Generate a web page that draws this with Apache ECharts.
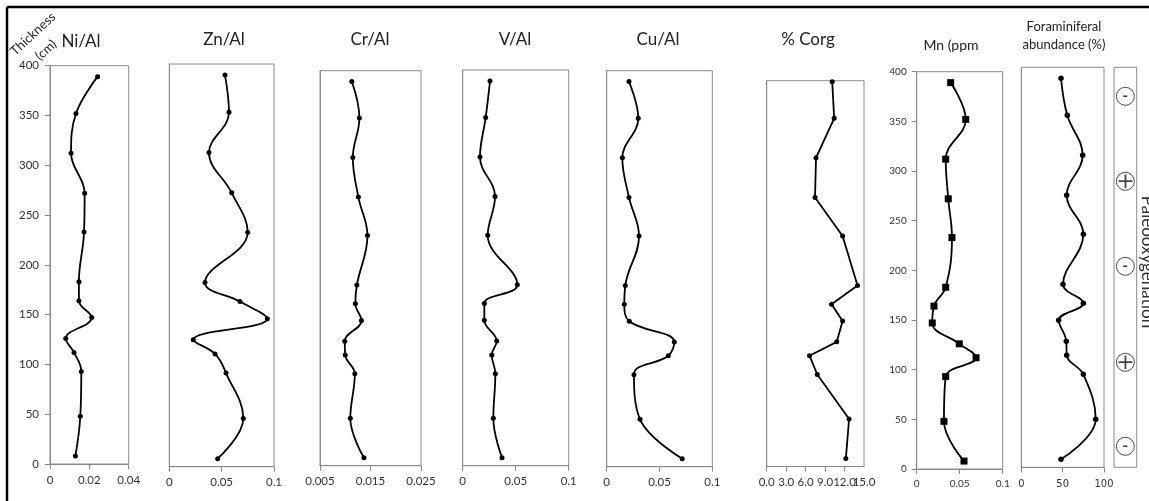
<!DOCTYPE html>
<html><head><meta charset="utf-8">
<script src="https://cdn.jsdelivr.net/npm/echarts@6/dist/echarts.min.js"></script>
<style>html,body{margin:0;padding:0;background:#fff}#c{width:1149px;height:501px}</style>
</head><body><div id="c"></div>
<script>
// ---- data ----
const depth = [389, 352, 312, 272, 233, 183, 164, 147, 126, 112, 93, 48, 8];
const niAl  = [0.0242, 0.0132, 0.0107, 0.0176, 0.0173, 0.0147, 0.0147, 0.0212, 0.0080, 0.0122, 0.0159, 0.0154, 0.0129];
const znAl  = [0.0532, 0.0570, 0.0379, 0.0596, 0.0749, 0.0341, 0.0675, 0.0936, 0.0229, 0.0437, 0.0542, 0.0707, 0.0462];
const crAl  = [0.0113, 0.0128, 0.0115, 0.0126, 0.0144, 0.0123, 0.0120, 0.0132, 0.0099, 0.0100, 0.0119, 0.0110, 0.0137];
const vAl   = [0.0258, 0.0217, 0.0163, 0.0305, 0.0236, 0.0515, 0.0204, 0.0204, 0.0321, 0.0274, 0.0308, 0.0289, 0.0371];
const cuAl  = [0.0211, 0.0299, 0.0148, 0.0211, 0.0306, 0.0176, 0.0167, 0.0214, 0.0640, 0.0583, 0.0258, 0.0315, 0.0715];
const corg  = [10.1, 10.4, 7.6, 7.45, 11.7, 14.0, 10.0, 11.7, 10.8, 6.6, 7.8, 12.7, 12.2];
const mnPpm = [0.0395, 0.0570, 0.0337, 0.0367, 0.0410, 0.0337, 0.0201, 0.0181, 0.0495, 0.0690, 0.0337, 0.0317, 0.0550];
const foram = [48, 55.6, 74.2, 54.9, 75, 50.4, 75, 45.2, 54.4, 54.9, 75, 90, 48];
const redoxDepth = [371, 286, 201, 105, 21];
const redoxSign  = ['-', '+', '-', '+', '-'];
const titles = ['Ni/Al', 'Zn/Al', 'Cr/Al', 'V/Al', 'Cu/Al', '% Corg', 'Mn (ppm', 'Foraminiferal\nabundance (%)'];
const xMin = [0, 0, 0.005, 0, 0, 0, 0, 0];
const xMax = [0.04, 0.1, 0.025, 0.1, 0.1, 15, 0.1, 100];
const xStep = [0.02, 0.05, 0.01, 0.05, 0.05, 3, 0.05, 50];
const yMax = [400, 400, 400, 400, 400, 390, 400, 400];
const seriesVals = [niAl, znAl, crAl, vAl, cuAl, corg, mnPpm, foram];

// ---- layout ----
const boxes = [
  {l: 50,    t: 65.7, w: 78.7,  b: 464},
  {l: 169.3, t: 64,   w: 104.7, b: 466.7},
  {l: 320,   t: 70.7, w: 101,   b: 465.7},
  {l: 462.7, t: 70,   w: 106,   b: 465.7},
  {l: 606.7, t: 70.7, w: 105.6, b: 466.7},
  {l: 766.7, t: 80.7, w: 97.3,  b: 466.5},
  {l: 916.7, t: 71.7, w: 86,    b: 469},
  {l: 1021.3,t: 67.3, w: 82.7,  b: 467.3}
];
const titlePos = [[81, 42, 17], [224, 40, 17], [370, 40, 17], [515, 40, 17], [658, 40, 17], [808, 40, 17], [951, 45, 14], [1064, 36, 13]];
const AX = '#8a8a8a';
const FONT = 'Lato, "Open Sans", sans-serif';

const grid = [], xAxis = [], yAxis = [], series = [];
boxes.forEach((b, i) => {
  grid.push({left: b.l, top: b.t, width: b.w, height: b.b - b.t, show: true, borderColor: AX, borderWidth: 1, backgroundColor: 'transparent'});
  const isForam = i === 7, isMn = i === 6, isCorg = i === 5;
  xAxis.push({
    type: 'value', gridIndex: i, min: xMin[i], max: xMax[i], interval: xStep[i],
    axisLine: {show: true, lineStyle: {color: AX}},
    axisTick: {show: true, length: 5, lineStyle: {color: AX}},
    splitLine: {show: false},
    axisLabel: {
      show: true, color: '#333', margin: isForam ? 11 : 10,
      fontSize: isMn ? 10 : (isForam ? 11 : 11.5),
      fontFamily: isForam ? '"Liberation Sans Narrow", "DejaVu Sans Condensed", sans-serif' : FONT,
      formatter: isCorg ? (v => v.toFixed(1)) : null,
      hideOverlap: false, showMinLabel: true, showMaxLabel: !isCorg
    }
  });
  const showY = i === 0 || i === 6;
  yAxis.push({
    type: 'value', gridIndex: i, min: 0, max: yMax[i], interval: 50,
    axisLine: {show: true, lineStyle: {color: AX}},
    axisTick: {show: showY, length: 5, lineStyle: {color: AX}},
    splitLine: {show: false},
    axisLabel: {show: showY, color: '#333', fontSize: isMn ? 10 : 11.5, fontFamily: FONT, margin: isMn ? 10 : 11}
  });
  const vals = seriesVals[i];
  series.push({
    type: 'line', xAxisIndex: i, yAxisIndex: i,
    data: depth.map((d, k) => [vals[k], d]),
    smooth: isCorg ? false : 0.4,
    symbol: isMn ? 'rect' : 'circle',
    symbolSize: isMn ? 7 : (isForam ? 5.5 : 5),
    showSymbol: true,
    lineStyle: {color: '#000', width: 1.8},
    itemStyle: {color: '#000'},
    silent: true
  });
});
// redox box
grid.push({left: 1114, top: 67.3, width: 22.7, height: 400, show: true, borderColor: AX, borderWidth: 1});
xAxis.push({type: 'value', gridIndex: 8, min: 0, max: 1, show: false});
yAxis.push({type: 'value', gridIndex: 8, min: 0, max: 400, show: false});
series.push({
  type: 'scatter', xAxisIndex: 8, yAxisIndex: 8,
  data: redoxDepth.map((d, k) => ({
    value: [0.5, d],
    label: redoxSign[k] === '+' ? {fontSize: 22, fontFamily: '"DejaVu Sans", sans-serif', offset: [0, 1]} : {fontSize: 16, fontWeight: 'bold', fontFamily: FONT}
  })),
  symbol: 'circle', symbolSize: 18,
  itemStyle: {color: '#fff', borderColor: '#222', borderWidth: 1},
  label: {show: true, position: 'inside', color: '#111', formatter: p => redoxSign[p.dataIndex]},
  silent: true
});
// second %Corg axis carrying only its last tick label (the overlapping "15.0")
const cb = boxes[5];
xAxis.push({
  type: 'value', gridIndex: 5, position: 'top', offset: -(cb.b - cb.t),
  min: xMin[5], max: xMax[5], interval: xMax[5] - xMin[5],
  axisLine: {show: false}, axisTick: {show: false}, splitLine: {show: false},
  axisLabel: {show: true, inside: true, color: '#333', margin: 10, fontSize: 11.5, fontFamily: FONT,
    showMinLabel: true, showMaxLabel: true,
    formatter: v => (v === xMax[5] ? v.toFixed(1) : '')}
});

const graphic = [
  {type: 'line', shape: {x1: 7, y1: 7, x2: 1149, y2: 7}, style: {stroke: '#000', lineWidth: 2.5}},
  {type: 'line', shape: {x1: 7, y1: 7, x2: 7, y2: 501}, style: {stroke: '#000', lineWidth: 2.5}},
  {type: 'text', x: 33, y: 34, rotation: 0.75, style: {text: 'Thickness', font: '13px ' + FONT, fill: '#222', textAlign: 'center', textVerticalAlign: 'middle'}},
  {type: 'text', x: 46, y: 50, rotation: 0.75, style: {text: '(cm)', font: '13px ' + FONT, fill: '#222', textAlign: 'center', textVerticalAlign: 'middle'}},
  {type: 'text', x: 1147, y: 262, rotation: -Math.PI / 2, style: {text: 'Paleooxygenation', font: '17px ' + FONT, fill: '#333', textAlign: 'center', textVerticalAlign: 'middle'}}
];
titles.forEach((t, i) => {
  const p = titlePos[i];
  graphic.push({type: 'text', x: p[0], y: p[1], style: {text: t, font: p[2] + 'px ' + FONT, fill: '#222', textAlign: 'center', textVerticalAlign: 'middle', lineHeight: 18}});
});

const chart = echarts.init(document.getElementById('c'), null, {renderer: 'canvas'});
chart.setOption({animation: false, backgroundColor: '#fff', grid, xAxis, yAxis, series, graphic});
</script>
</body></html>
